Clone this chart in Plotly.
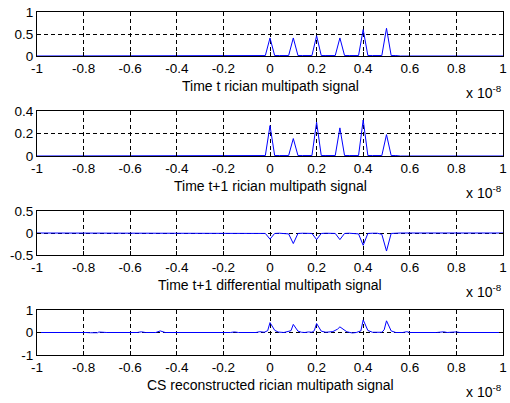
import plotly.graph_objects as go

# time axis values in units of 1e-8 s
t1 = [-1, -0.06, -0.04, -0.02, 0, 0.02, 0.04, 0.06, 0.08, 0.10, 0.12, 0.14, 0.16, 0.18,
      0.20, 0.22, 0.24, 0.26, 0.28, 0.30, 0.32, 0.34, 0.36, 0.38, 0.40, 0.42, 0.44, 0.46,
      0.48, 0.50, 0.52, 0.54, 0.56, 1]
y1 = [0, 0, 0.01, 0.01, 0.41, 0.01, 0.01, 0.01, 0.01, 0.41, 0.01, 0.01, 0.01, 0.01,
      0.46, 0.01, 0.01, 0.01, 0.01, 0.41, 0.01, 0.01, 0.01, 0.01, 0.60, 0.01, 0.01, 0.01,
      0.01, 0.63, 0.01, 0.01, 0, 0]

t2 = t1
y2 = [0, 0, 0.004, 0.004, 0.27, 0.004, 0.004, 0.004, 0.004, 0.155, 0.004, 0.004, 0.004, 0.004,
      0.30, 0.004, 0.004, 0.004, 0.004, 0.25, 0.004, 0.004, 0.004, 0.004, 0.32, 0.004, 0.004, 0.004,
      0.004, 0.19, 0.004, 0.004, 0, 0]

t3 = t1
y3 = [0, 0, -0.005, -0.01, -0.14, -0.01, -0.005, -0.005, -0.02, -0.24, -0.01, -0.005, -0.005, -0.01,
      -0.15, -0.01, -0.005, -0.005, -0.01, -0.15, -0.01, -0.005, -0.005, -0.02, -0.28, -0.01, -0.005, -0.005,
      -0.03, -0.41, -0.01, -0.005, 0, 0]

t4 = [-1, -0.83, -0.81, -0.79, -0.77, -0.75, -0.74, -0.735, -0.725, -0.714, -0.70, -0.57, -0.552, -0.535,
      -0.49, -0.471, -0.45, -0.17, -0.153, -0.135, -0.06, -0.044, -0.025, -0.01, 0, 0.02, 0.035, 0.06,
      0.09, 0.10, 0.12, 0.135, 0.15, 0.165, 0.18, 0.19, 0.20, 0.22, 0.24, 0.27, 0.29, 0.30, 0.31, 0.33,
      0.353, 0.37, 0.39, 0.40, 0.42, 0.44, 0.48, 0.49, 0.50, 0.52, 0.54, 0.57, 0.587, 0.60, 0.715,
      0.73, 0.737, 0.745, 0.76, 0.78, 0.79, 0.80, 0.815, 1]
y4 = [0, 0, 0.03, 0, -0.01, -0.03, -0.01, 0.02, 0.01, 0.025, 0, 0, 0.03, 0,
      0, 0.07, 0, 0, 0.025, 0, 0, 0.035, 0.01, 0.08, 0.44, 0.10, 0.02, 0,
      0.08, 0.36, 0.06, 0.01, 0, 0.025, 0.01, 0.08, 0.40, 0.06, 0.01, 0.04, 0.15, 0.25, 0.18, 0.03,
      -0.02, 0, 0.07, 0.56, 0.09, 0.01, 0.01, 0.12, 0.52, 0.07, 0, 0, 0.035, 0, 0,
      0.02, 0.01, 0.03, 0, 0.025, 0.01, 0.025, 0, 0]

xticks = [-1, -0.8, -0.6, -0.4, -0.2, 0, 0.2, 0.4, 0.6, 0.8, 1]
xticktext = ["-1", "-0.8", "-0.6", "-0.4", "-0.2", "0", "0.2", "0.4", "0.6", "0.8", "1"]

yticks = [[0, 0.5, 1], [0, 0.2, 0.4], [-0.5, 0, 0.5], [-1, 0, 1]]
yticktext = [["0", "0.5", "1"], ["0", "0.2", "0.4"], ["-0.5", "0", "0.5"], ["-1", "0", "1"]]
yranges = [[0, 1], [0, 0.4], [-0.5, 0.5], [-1, 1]]

labels = ["Time t rician multipath signal", "Time t+1 rician multipath signal",
          "Time t+1 differential multipath signal", "CS reconstructed rician multipath signal"]

series = [(t1, y1), (t2, y2), (t3, y3), (t4, y4)]

# layout in pixels
W, H = 510, 403
ML, MR, MT, MB = 37, 3, 12, 48
ph = H - MT - MB
boxes = [(12, 56), (111, 156), (211, 255), (310, 355)]

def py(p):
    return (H - MB - p) / ph

fig = go.Figure()
FONT = "Liberation Sans, Arial, sans-serif"
layout = dict(
    width=W, height=H,
    margin=dict(l=ML, r=MR, t=MT, b=MB),
    paper_bgcolor="white", plot_bgcolor="white",
    showlegend=False,
    font=dict(family=FONT, size=14, color="black"),
)
annotations = []
for i, ((tx, ty), (top, bot)) in enumerate(zip(series, boxes)):
    n = "" if i == 0 else str(i + 1)
    fig.add_trace(go.Scatter(x=tx, y=ty, mode="lines",
                             line=dict(color="#0000ff", width=1),
                             xaxis="x" + n, yaxis="y" + n, hoverinfo="skip"))
    common = dict(showline=True, linecolor="black", linewidth=1, mirror="ticks",
                  ticks="inside", ticklen=4, tickcolor="black",
                  showgrid=True, gridcolor="black", gridwidth=1, griddash="4px,3px",
                  zeroline=False, ticklabeloverflow="allow",
                  tickfont=dict(family=FONT, size=13.5, color="black"))
    layout["xaxis" + n] = dict(common, domain=[0, 1], range=[-1, 1], tickmode="array",
                               tickvals=xticks, ticktext=xticktext,
                               anchor="y" + n)
    layout["yaxis" + n] = dict(common, domain=[py(bot), py(top)], range=yranges[i],
                               tickmode="array", tickvals=yticks[i], ticktext=yticktext[i],
                               anchor="x" + n)
    annotations.append(dict(text=labels[i], xref="paper", yref="paper",
                            x=(272 - ML) / (W - ML - MR), y=py(bot + 30),
                            xanchor="center", yanchor="middle", showarrow=False,
                            font=dict(family=FONT, size=14, color="black")))
    annotations.append(dict(text="x 10<sup>-8</sup>", xref="paper", yref="paper",
                            x=(508 - ML) / (W - ML - MR), y=py(bot + 36),
                            xanchor="right", yanchor="middle", showarrow=False,
                            font=dict(family=FONT, size=14, color="black")))
layout["annotations"] = annotations
fig.update_layout(**layout)
fig.write_html("out.html")
